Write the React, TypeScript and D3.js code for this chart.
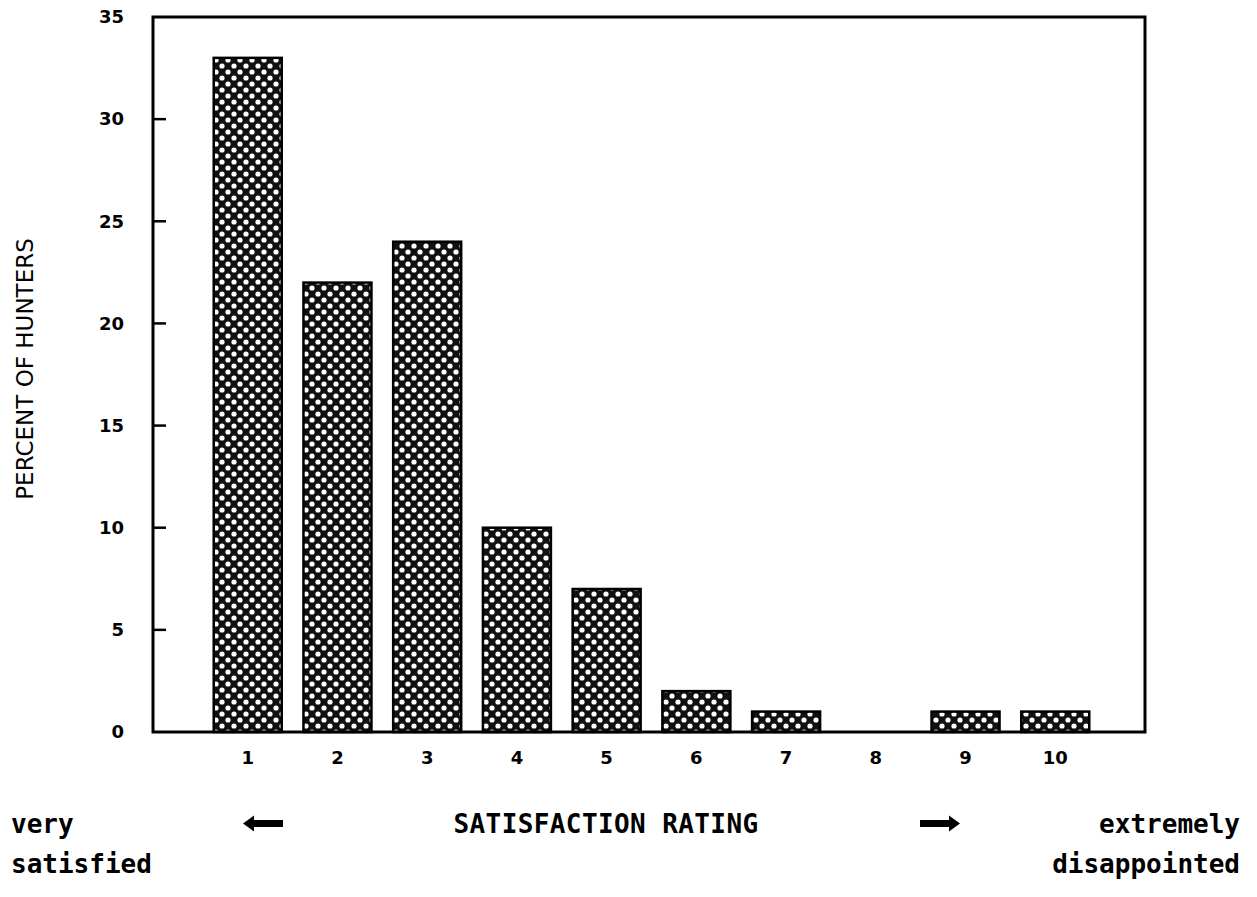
import React from "react";
import * as d3 from "d3";

const categories = ["1", "2", "3", "4", "5", "6", "7", "8", "9", "10"];
const values = [33, 22, 24, 10, 7, 2, 1, 0, 1, 1];
const yTicks = [0, 5, 10, 15, 20, 25, 30, 35];

const W = 1257;
const H = 897;
const left = 153;
const right = 1145;
const top = 17;
const bottom = 732;

export default function App() {
  const x = d3.scaleLinear().domain([0, 11]).range([158, 1145]);
  const y = d3.scaleLinear().domain([0, 35]).range([bottom, top]);
  const bw = 68;
  const mono = "'DejaVu Sans Mono', 'Liberation Mono', monospace";
  const sans = "'DejaVu Sans', 'Liberation Sans', sans-serif";
  return (
    <svg width={W} height={H} style={{ position: "absolute", left: 0, top: 0, background: "#fff" }}>
      <defs>
        <pattern id="dots" width={12} height={12} patternUnits="userSpaceOnUse">
          <rect width={12} height={12} fill="#111" />
          <circle cx={0} cy={0} r={2.6} fill="#fff" />
          <circle cx={12} cy={0} r={2.6} fill="#fff" />
          <circle cx={0} cy={12} r={2.6} fill="#fff" />
          <circle cx={12} cy={12} r={2.6} fill="#fff" />
          <circle cx={6} cy={6} r={2.6} fill="#fff" />
        </pattern>
      </defs>
      <rect x={0} y={0} width={W} height={H} fill="#fff" />
      {values.map((v, i) =>
        v > 0 ? (
          <rect
            key={i}
            x={x(i + 1) - bw / 2}
            y={y(v)}
            width={bw}
            height={y(0) - y(v)}
            fill="url(#dots)"
            stroke="#000"
            strokeWidth={2.5}
          />
        ) : null
      )}
      <rect x={left} y={top} width={right - left} height={bottom - top} fill="none" stroke="#000" strokeWidth={3} />
      {yTicks.map((t) => (
        <g key={t}>
          {t > 0 && t < 35 ? (
            <line x1={left} x2={left + 13} y1={y(t)} y2={y(t)} stroke="#000" strokeWidth={2.5} />
          ) : null}
          <text
            x={124}
            y={y(t)}
            dy="0.35em"
            textAnchor="end"
            fontFamily={sans}
            fontWeight="bold"
            fontSize={18}
            fill="#000"
          >
            {t}
          </text>
        </g>
      ))}
      {categories.map((c, i) => (
        <text
          key={c}
          x={x(i + 1)}
          y={758}
          dy="0.35em"
          textAnchor="middle"
          fontFamily={sans}
          fontWeight="bold"
          fontSize={18}
          fill="#000"
        >
          {c}
        </text>
      ))}
      <text
        transform={`translate(33, ${369}) rotate(-90)`}
        textAnchor="middle"
        fontFamily={sans}
        fontSize={23}
        fill="#000"
      >
        PERCENT OF HUNTERS
      </text>
      <g fontFamily={mono} fontWeight="bold" fontSize={26} fill="#000">
        <text x={11} y={833}>very</text>
        <text x={11} y={873}>satisfied</text>
        <text x={606} y={833} textAnchor="middle" letterSpacing={0.4}>SATISFACTION RATING</text>
        <text x={1240} y={833} textAnchor="end">extremely</text>
        <text x={1240} y={873} textAnchor="end">disappointed</text>
      </g>
      <g fill="#000">
        <rect x={250} y={820} width={33} height={7} />
        <path d="M243,823.5 L254,815.5 L254,831.5 Z" />
        <rect x={920} y={820} width={32} height={7} />
        <path d="M960,823.5 L949,815.5 L949,831.5 Z" />
      </g>
    </svg>
  );
}
